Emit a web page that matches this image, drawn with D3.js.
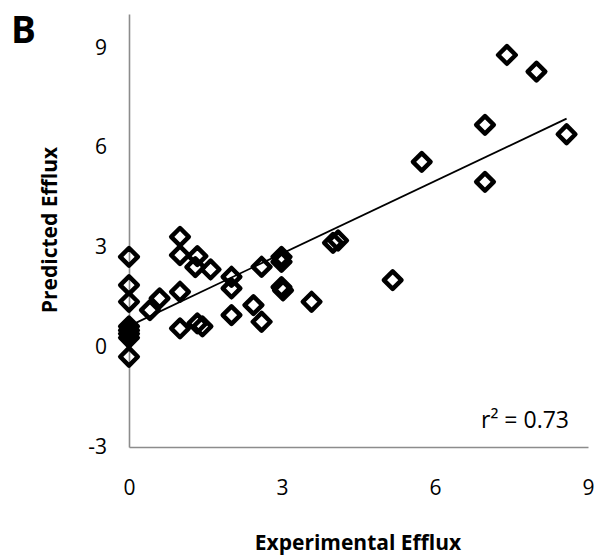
<!DOCTYPE html>
<html>
<head>
<meta charset="utf-8">
<script src="https://cdn.jsdelivr.net/npm/d3@7"></script>
<style>
  html, body { margin: 0; padding: 0; background: #fff; }
  svg { display: block; }
  text { font-family: "Open Sans", "Liberation Sans", sans-serif; fill: #000; }
</style>
</head>
<body>
<svg id="chart" width="597" height="557"></svg>
<script>
// Data
const experimental = [0, 0, 0, 0, 0, 0, 0, 0,
  0.41, 0.6, 1.0, 1.0, 1.0, 1.34, 1.3, 1.6, 1.0, 1.34, 1.44,
  2.01, 2.01, 2.01, 2.44, 2.6, 2.6, 2.99, 2.99, 2.99, 3.02, 3.58, 4.0, 4.1,
  5.17, 5.74, 6.98, 6.98, 7.41, 7.99, 8.58];
const predicted = [2.71, 1.86, 1.36, 0.62, 0.5, 0.4, 0.28, -0.29,
  1.11, 1.46, 1.66, 3.31, 2.76, 2.73, 2.4, 2.33, 0.56, 0.71, 0.62,
  2.11, 1.76, 0.96, 1.26, 0.76, 2.41, 2.71, 2.56, 1.8, 1.7, 1.36, 3.13, 3.2,
  2.01, 5.56, 4.96, 6.67, 8.77, 8.27, 6.39];
const xTicks = [0, 3, 6, 9];
const yTicks = [-3, 0, 3, 6, 9];
const xDomain = [0, 9];
const yDomain = [-3, 10];
const trendSlope = 0.726;
const trendIntercept = 0.63;
const r2Label = "r\u00B2 = 0.73";
const xTitle = "Experimental Efflux";
const yTitle = "Predicted Efflux";
const panelLabel = "B";

const svg = d3.select("#chart");
const mLeft = 129, mRight = 588, mTop = 14, mBottom = 447;

const x = d3.scaleLinear().domain(xDomain).range([mLeft, mRight]);
const y = d3.scaleLinear().domain(yDomain).range([mBottom, mTop]);

// axes lines
const axisColor = "#8c8c8c";
const fmt = d => String(d);
const xAxis = d3.axisBottom(x).tickValues(xTicks).tickSize(0).tickPadding(33).tickFormat(fmt);
const gx = svg.append("g").attr("transform", `translate(0,${y(-3)})`).call(xAxis);
gx.select(".domain").attr("stroke", axisColor).attr("stroke-width", 1.6);
gx.selectAll("text").attr("font-size", 21).attr("font-family", "'Open Sans', sans-serif");

const yAxis = d3.axisLeft(y).tickValues(yTicks).tickSize(0).tickPadding(22).tickFormat(fmt);
const gy = svg.append("g").attr("transform", `translate(${x(0)},0)`).call(yAxis);
gy.select(".domain").attr("stroke", axisColor).attr("stroke-width", 1.6);
gy.selectAll("text").attr("font-size", 21).attr("font-family", "'Open Sans', sans-serif");

// trend line
const xMin = d3.min(experimental), xMax = d3.max(experimental);
svg.append("line")
  .attr("x1", x(xMin)).attr("y1", y(trendSlope * xMin + trendIntercept))
  .attr("x2", x(xMax)).attr("y2", y(trendSlope * xMax + trendIntercept))
  .attr("stroke", "#000").attr("stroke-width", 1.8);

// diamonds
const h = 8.8;
svg.append("g").selectAll("path")
  .data(experimental.map((v, i) => [v, predicted[i]]))
  .join("path")
  .attr("d", d => {
    const cx = x(d[0]), cy = y(d[1]);
    return `M${cx},${cy - h}L${cx + h},${cy}L${cx},${cy + h}L${cx - h},${cy}Z`;
  })
  .attr("fill", "none")
  .attr("stroke", "#000")
  .attr("stroke-width", 4.5)
  .attr("stroke-linejoin", "round");

// r2 label
svg.append("text").attr("x", 569).attr("y", 428).attr("text-anchor", "end")
  .attr("font-size", 23).text(r2Label);

// titles
svg.append("text").attr("x", 358).attr("y", 550).attr("text-anchor", "middle")
  .attr("font-size", 21).attr("font-weight", "bold").text(xTitle);
svg.append("text").attr("transform", "translate(57,230) rotate(-90)")
  .attr("text-anchor", "middle").attr("font-size", 21).attr("font-weight", "bold").text(yTitle);
svg.append("text").attr("x", 11).attr("y", 43)
  .attr("font-size", 37).attr("font-weight", "bold").text(panelLabel);
</script>
</body>
</html>
